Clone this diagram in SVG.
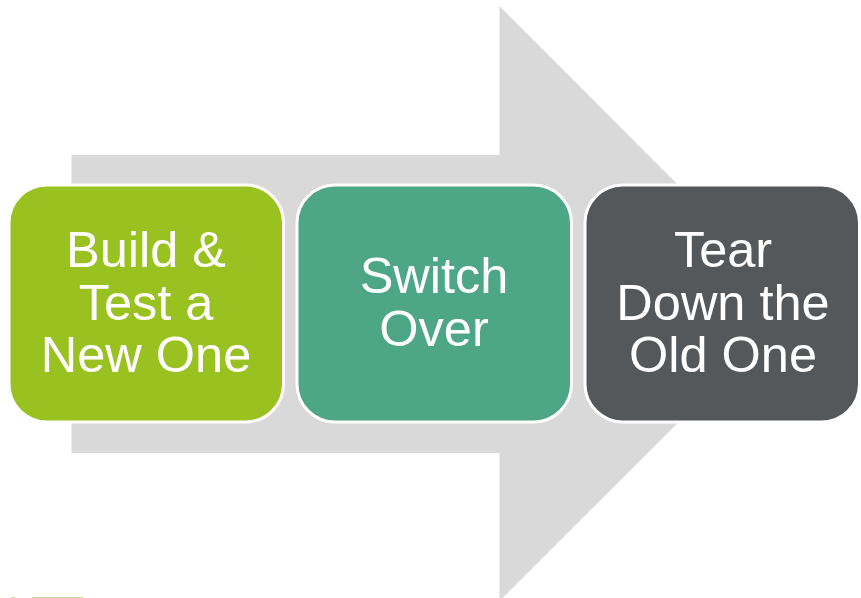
<svg xmlns="http://www.w3.org/2000/svg" width="861" height="598" viewBox="0 0 861 598">
<style>
.box{stroke:#fff;stroke-width:3}
.mark{fill:#c8dd8c}
text{font-family:"Liberation Sans",Arial,sans-serif;font-size:50.500px;fill:#fff;text-anchor:middle}
</style>
<rect width="861" height="598" fill="#fff"/>
<g id="connectors"><path id="arrow" d="M71.500 155H499.500V6L797 304L499.500 601V453H71.500Z" fill="#d9d9d9"/></g>
<g id="node1"><rect class="box" x="9" y="185" width="274.500" height="237" rx="38" fill="#99c221"/>
<text x="146" y="267">Build &amp;</text><text x="146" y="319.500">Test a</text><text x="146" y="372">New One</text></g>
<g id="node2"><rect class="box" x="297" y="185" width="274.500" height="237" rx="38" fill="#4da685"/>
<text x="434" y="293">Switch</text><text x="434" y="345.500">Over</text></g>
<g id="node3"><rect class="box" x="585" y="185" width="274.500" height="237" rx="38" fill="#54585a"/>
<text x="723" y="267">Tear</text><text x="723" y="319.500">Down the</text><text x="723" y="372">Old One</text></g>
<rect class="mark" x="11" y="597" width="4" height="1"/><rect class="mark" x="32" y="597" width="51" height="1"/>
</svg>
